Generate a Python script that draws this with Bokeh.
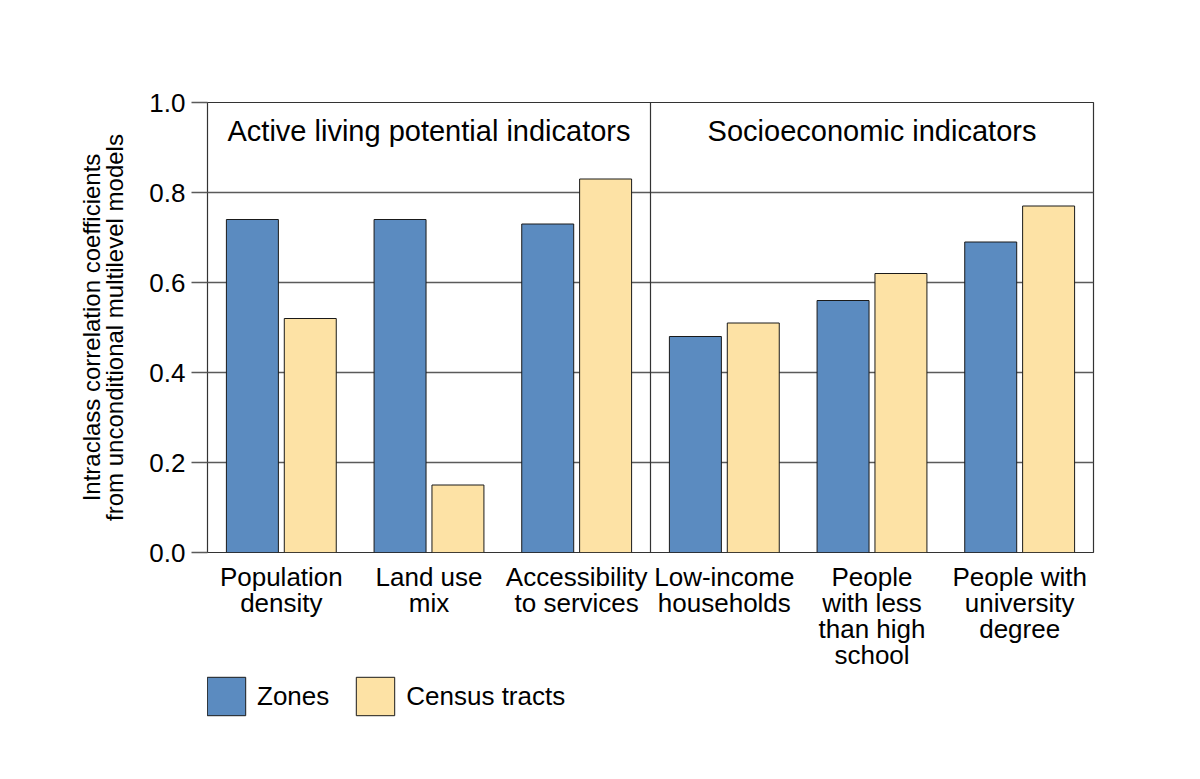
from bokeh.plotting import figure
from bokeh.models import (ColumnDataSource, FactorRange, Range1d, FixedTicker, Span,
                          Legend, LegendItem, NumeralTickFormatter, Text)
from bokeh.layouts import column
from bokeh.transform import dodge
from bokeh.core.properties import value
from bokeh.embed import file_html
from bokeh.resources import INLINE

categories = [
    "Population\ndensity",
    "Land use\nmix",
    "Accessibility\nto services",
    "Low-income\nhouseholds",
    "People\nwith less\nthan high\nschool",
    "People with\nuniversity\ndegree",
]
zones = [0.74, 0.74, 0.73, 0.48, 0.56, 0.69]
census_tracts = [0.52, 0.15, 0.83, 0.51, 0.62, 0.77]
series_names = ["Zones", "Census tracts"]
group_names = ["Active living potential indicators", "Socioeconomic indicators"]
group_sizes = [3, 3]
y_ticks = [0.0, 0.2, 0.4, 0.6, 0.8, 1.0]
y_title = "Intraclass correlation coefficients\nfrom unconditional multilevel models"

FONT = "Liberation Sans"
BLUE = "#5b8bc0"
YELLOW = "#fde2a5"
GRID = "#5a5a5a"
EDGE = "#1a1a1a"

src = ColumnDataSource(dict(cat=categories, zones=zones, census=census_tracts))

P_H = 672
p = figure(width=1184, height=P_H, x_range=FactorRange(*categories), y_range=Range1d(0, 1),
           output_backend="svg", toolbar_location=None,
           min_border_left=207, min_border_right=91, min_border_top=102, min_border_bottom=120)
p.x_range.range_padding = 0
p.background_fill_color = "white"
p.border_fill_color = "white"
p.outline_line_color = "#333333"
p.outline_line_width = 1.2

bw = 0.352
off = 0.196
bar_specs = [("zones", -off, BLUE), ("census", off, YELLOW)]
for col, dx, color in bar_specs:
    p.vbar(x=dodge("cat", dx, range=p.x_range), top=col, width=bw, source=src,
           fill_color=color, line_color=EDGE, line_width=1)

# grid
p.xgrid.grid_line_color = None
p.ygrid.grid_line_color = GRID
p.ygrid.grid_line_width = 1.5
p.ygrid.ticker = FixedTicker(ticks=y_ticks)

# y axis
ya = p.yaxis[0]
ya.ticker = FixedTicker(ticks=y_ticks)
ya.formatter = NumeralTickFormatter(format="0.0")
ya.axis_line_color = None
ya.major_tick_line_color = GRID
ya.major_tick_line_width = 1.5
ya.major_tick_out = 16
ya.major_tick_in = 0
ya.minor_tick_line_color = None
ya.major_label_standoff = 6
ya.major_label_text_font = FONT
ya.major_label_text_font_size = "26px"
ya.major_label_text_color = "black"
ya.axis_label = y_title
ya.axis_label_text_font = FONT
ya.axis_label_text_font_size = "24px"
ya.axis_label_text_font_style = "normal"
ya.axis_label_text_color = "black"
ya.axis_label_text_line_height = 0.88
ya.axis_label_standoff = 18

# x axis
xa = p.xaxis[0]
xa.axis_line_color = None
xa.major_tick_line_color = None
xa.minor_tick_line_color = None
xa.major_label_standoff = 3
xa.major_label_text_font = FONT
xa.major_label_text_font_size = "26px"
xa.major_label_text_line_height = 0.87
xa.major_label_text_color = "black"
xa.major_label_orientation = "horizontal"

# group divider(s) and labels
start = 0
gx, gy = [], []
for i, (name, n) in enumerate(zip(group_names, group_sizes)):
    gx.append(start + n / 2)
    gy.append(0.936)
    if i > 0:
        p.add_layout(Span(location=start, dimension="height", line_color="#333333", line_width=1.2))
    start += n

gsrc = ColumnDataSource(dict(x=gx, y=gy, t=group_names))
p.add_glyph(gsrc, Text(x="x", y="y", text="t", text_align="center", text_baseline="middle",
                       text_font=value(FONT), text_font_size="29px", text_color="black"))

# legend strip below the chart (frames are aligned by the column layout)
P2_H = 760 - P_H
GLYPH = 48  # legend swatch box; the drawn square is 80% of it
p2 = figure(width=1184, height=P2_H, x_range=p.x_range, y_range=Range1d(0, 1),
            output_backend="svg", toolbar_location=None,
            x_axis_location=None, y_axis_location=None,
            min_border_left=0, min_border_right=0, min_border_top=0, min_border_bottom=0)
p2.outline_line_color = None
p2.grid.grid_line_color = None
p2.background_fill_color = "white"
p2.border_fill_color = "white"
legend_renderers = []
for col, dx, color in bar_specs:
    r = p2.vbar(x=dodge("cat", dx, range=p.x_range), top=col, width=bw, source=src,
                fill_color=color, line_color=EDGE, line_width=1, visible=False)
    legend_renderers.append(r)
legend = Legend(items=[LegendItem(label=name, renderers=[r])
                       for name, r in zip(series_names, legend_renderers)],
                orientation="horizontal", location=(-5, P2_H - GLYPH),
                glyph_width=GLYPH, glyph_height=GLYPH, label_standoff=7, spacing=22,
                padding=0, margin=0, border_line_color=None, background_fill_alpha=0,
                label_text_font=FONT, label_text_font_size="26px", label_text_color="black")
p2.add_layout(legend, "center")

open("out.html", "w").write(file_html(column(p, p2), INLINE))
